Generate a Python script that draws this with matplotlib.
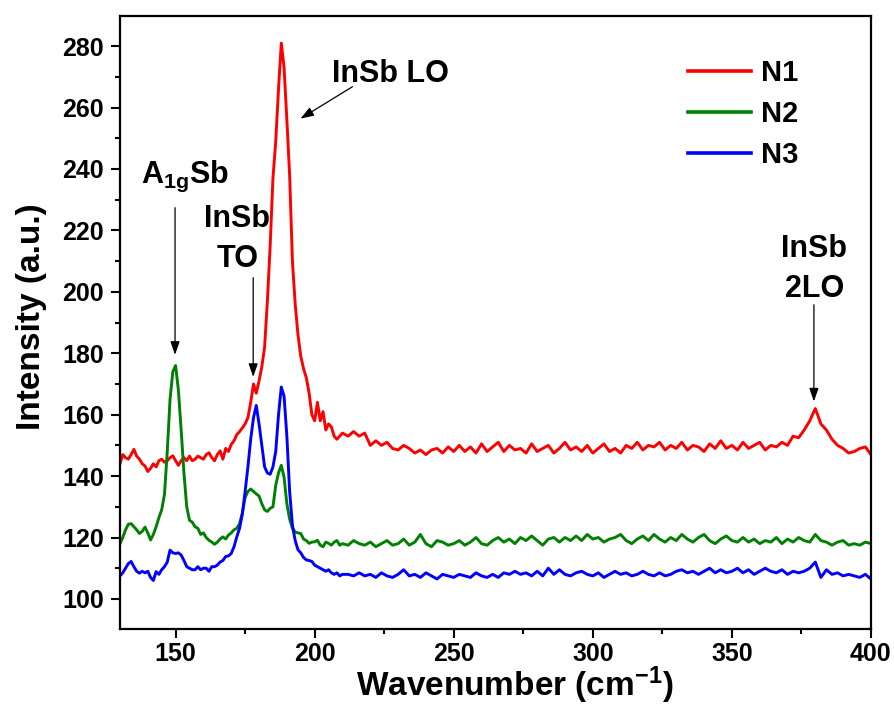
import numpy as np
import matplotlib
matplotlib.use("Agg")
import matplotlib.pyplot as plt
from matplotlib.ticker import MultipleLocator

plt.rcParams['font.family'] = ['Liberation Sans', 'DejaVu Sans']
plt.rcParams['font.weight'] = 'bold'
plt.rcParams['mathtext.fontset'] = 'custom'
plt.rcParams['mathtext.rm'] = 'Liberation Sans:bold'
plt.rcParams['mathtext.it'] = 'Liberation Sans:bold'
plt.rcParams['mathtext.bf'] = 'Liberation Sans:bold'
plt.rcParams['mathtext.default'] = 'rm'

# Wavenumber grid (cm^-1): 1 cm^-1 steps up to 210, then 2 cm^-1 steps
wavenumber = np.concatenate([np.arange(130, 211), np.arange(212, 401, 2)])

n1 = [
    144, 147, 146, 145.5, 147, 148.7, 146.5, 145.5, 144, 143.3,
    141.5, 142.5, 144, 143, 145, 145.5, 144.5, 145, 146, 146.6,
    145, 143.5, 145, 146, 145, 146.5, 145, 145.5, 146.5, 146,
    145.5, 147, 147.6, 146, 145, 147, 148.2, 145.5, 149, 148,
    150.3, 151.5, 153.5, 154.5, 155.7, 157, 159, 164, 170, 167,
    171, 175.6, 182, 197, 215, 237, 249, 266, 281, 273,
    256, 238, 210, 196, 186, 179, 175, 172, 167, 160,
    158, 164, 158, 161, 155, 157, 156, 153, 152, 153,
    154,
    153, 154.5, 153, 154, 150, 151.5, 150, 151, 149, 148.5,
    150, 149, 147.5, 148.5, 147, 148.5, 149, 147.5, 149.5, 148,
    150, 148, 149.5, 147.5, 150.5, 148, 149.5, 151, 148, 150,
    148.5, 149, 147.5, 150.5, 148, 149, 150, 147.5, 149, 151,
    148.5, 149.5, 148, 150, 147.5, 149, 150.5, 148, 149, 147.5,
    150, 149, 151, 148.5, 150, 149.5, 151, 148.5, 150, 149,
    151, 148.5, 150, 149.5, 148, 150.5, 149, 151.5, 149, 150,
    148.5, 151, 149, 150, 151, 148.5, 150, 149.5, 151, 150,
    153, 152.5, 155, 158, 162, 157, 155, 152, 150, 149,
    147.5, 148, 149, 149.5, 147,
]

n2 = [
    118, 120, 122.5, 124.3, 124.5, 123.5, 122.5, 121.3, 122, 123.4,
    121.5, 119.2, 121, 123.5, 126.5, 129, 134, 148, 165, 174,
    176, 168, 155, 141, 130, 125.6, 125, 123.5, 123, 121,
    121.5, 120, 119.1, 118.5, 117.8, 118.5, 119.5, 120.2, 119.5, 120.8,
    121.5, 122.5, 123, 124.5, 128, 133, 135, 135.8, 135, 134.2,
    133.5, 131, 129, 128.5, 129.5, 130, 137, 141, 143.5, 139.6,
    131, 126, 123, 121.8, 121.5, 121.3, 119.5, 119, 118.1, 118.5,
    118.6, 119.1, 117.5, 117, 118.5, 118.1, 117.5, 118.5, 119, 117.5,
    118,
    117.5, 119, 118, 117.5, 118.5, 117, 118, 119, 117.5, 118,
    119.5, 117.5, 118.5, 121, 118, 117, 119, 118.5, 117.5, 118,
    119, 117.5, 118.5, 120, 118, 117.5, 119, 120, 118.5, 119.5,
    118, 120, 119, 120.5, 119, 117.5, 119.5, 120, 118.5, 120,
    119, 120.5, 119, 121, 119.5, 120, 118.5, 119.5, 120, 121,
    119, 118, 119.5, 120.5, 119, 121, 119.5, 118.5, 120, 119,
    121, 119.5, 118.5, 120, 121, 119, 118, 119.5, 120.5, 119,
    118.5, 120, 118.5, 119.5, 118, 119, 118.5, 120, 118, 119.5,
    118.5, 120, 119, 118.5, 121, 119, 118.5, 117.5, 118.5, 119,
    117.5, 118, 117.5, 118.5, 118,
]

n3 = [
    107.5, 108.5, 110, 111.5, 112.2, 110.5, 109, 108.4, 109, 108.5,
    109, 107, 106, 108.9, 108, 109.5, 110.5, 112, 115.9, 115,
    114.8, 115, 114.3, 112.5, 110.5, 110, 109.5, 109.5, 110.5, 109.5,
    110, 110, 109, 110.5, 110.5, 111, 112, 112.5, 113.8, 114,
    114.8, 117, 120.2, 123, 127.7, 135, 143, 152, 159, 163,
    157, 150, 143, 141, 140.6, 143, 148, 160, 169, 166,
    153, 135, 124, 119, 116, 115, 113.5, 112.7, 112.5, 112.2,
    111, 110.5, 110, 109.5, 109, 109.5, 108.5, 108, 108.5, 107.5,
    108,
    108, 107.5, 108.5, 107.5, 108, 107, 108.5, 107.5, 107, 108,
    109.5, 107.5, 108, 107, 108.5, 107.5, 106.5, 108, 107.5, 107,
    108, 107.5, 107, 108.5, 107.5, 107, 108, 107, 108.5, 108,
    109, 108, 108.5, 107.5, 109, 107.5, 110, 108, 109.5, 108,
    107.5, 108.5, 109, 108, 107.5, 108.5, 107, 108, 109, 108,
    108.5, 107.5, 108, 109, 108, 107.5, 108.5, 107.5, 108, 109,
    109.5, 108.5, 109, 108, 109, 110, 108.5, 109.5, 108.5, 109,
    110, 108.5, 109.5, 108, 109, 110, 109, 108.5, 109.5, 108,
    109, 108.5, 109, 110, 112, 107, 109.5, 108, 108.5, 107.5,
    108, 107.5, 107, 108, 106.5,
]

series_names = ['N1', 'N2', 'N3']
series_colors = ['#FF0000', '#008000', '#0000FF']

fig = plt.figure(figsize=(8.94, 7.07), dpi=100)
ax = fig.add_axes([0.1342, 0.1103, 0.840, 0.867])

for y, name, c in zip([n1, n2, n3], series_names, series_colors):
    ax.plot(wavenumber, y, color=c, lw=2.1, label=name)

ax.set_xlim(130, 400)
ax.set_ylim(90.2, 289.8)
ax.xaxis.set_major_locator(MultipleLocator(50))
ax.xaxis.set_minor_locator(MultipleLocator(25))
ax.yaxis.set_major_locator(MultipleLocator(20))
ax.yaxis.set_minor_locator(MultipleLocator(10))
ax.set_yticks(np.arange(100, 281, 20))

for s in ax.spines.values():
    s.set_linewidth(1.6)
ax.tick_params(which='major', direction='out', length=6.5, width=1.5,
               labelsize=18)
ax.tick_params(axis='x', which='major', pad=3)
ax.tick_params(axis='y', which='major', pad=5)
ax.tick_params(which='minor', direction='out', length=3.8, width=1.5)
for lab in ax.get_xticklabels() + ax.get_yticklabels():
    lab.set_fontweight('bold')

ax.set_xlabel('Wavenumber (cm$^{-1}$)', fontsize=24, fontweight='bold')
ax.set_ylabel('Intensity (a.u.)', fontsize=24, fontweight='bold')
ax.xaxis.set_label_coords(0.525, -0.058)
ax.yaxis.set_label_coords(-0.097, 0.509)

leg = ax.legend(loc='upper left', bbox_to_anchor=(0.757, 0.93), frameon=False,
                fontsize=21, handlelength=2.15, handletextpad=0.35,
                labelspacing=0.45, borderpad=0, borderaxespad=0)
for line in leg.get_lines():
    line.set_linewidth(2.6)

arrow_kw = dict(arrowstyle='-|>,head_length=0.8,head_width=0.28', color='black',
                lw=0.9, shrinkA=0, shrinkB=0, mutation_scale=10)
ann_fs = 22

# A1g Sb
ax.text(153.4, 235.5, 'A$_{1g}$Sb', fontsize=ann_fs, fontweight='bold',
        ha='center', va='baseline')
ax.annotate('', xy=(149.8, 179.5), xytext=(149.8, 227.4), arrowprops=arrow_kw)

# InSb TO
ax.text(172.2, 221.2, 'InSb', fontsize=ann_fs, fontweight='bold', ha='center', va='baseline')
ax.text(172.2, 208.1, 'TO', fontsize=ann_fs, fontweight='bold', ha='center', va='baseline')
ax.annotate('', xy=(177.9, 172.3), xytext=(177.9, 204.6), arrowprops=arrow_kw)

# InSb LO
ax.text(227.3, 268.4, 'InSb LO', fontsize=ann_fs, fontweight='bold', ha='center', va='baseline')
ax.annotate('', xy=(194.9, 256.4), xytext=(213.6, 266.8), arrowprops=arrow_kw)

# InSb 2LO
ax.text(379.7, 211.4, 'InSb', fontsize=ann_fs, fontweight='bold', ha='center', va='baseline')
ax.text(379.7, 198.4, '2LO', fontsize=ann_fs, fontweight='bold', ha='center', va='baseline')
ax.annotate('', xy=(379.5, 164.3), xytext=(379.5, 195.8), arrowprops=arrow_kw)

fig.savefig('out.png', dpi=100)
